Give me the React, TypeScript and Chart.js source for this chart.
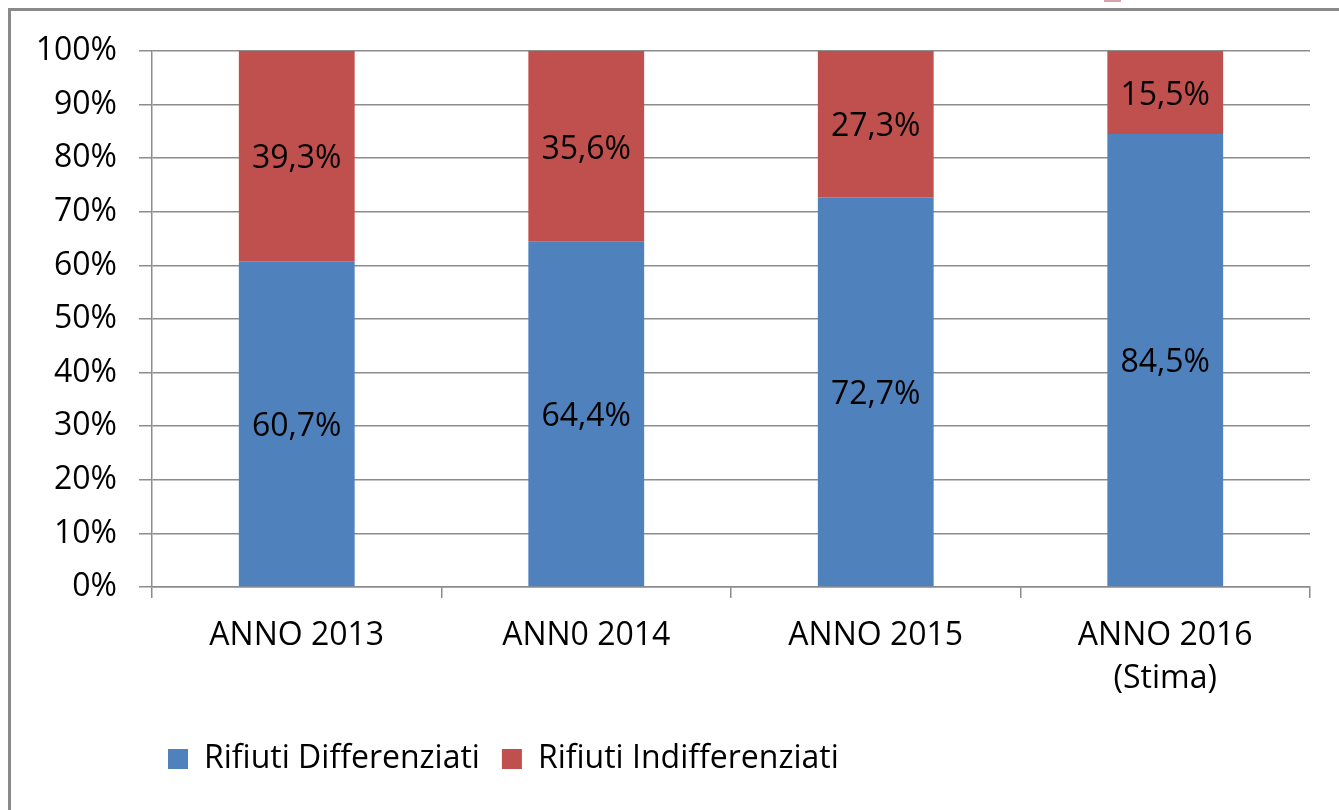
import React, { useEffect, useRef } from "react";
import { Chart, registerables } from "chart.js";

Chart.register(...registerables);

const categories: (string | string[])[] = ["ANNO 2013", "ANN0 2014", "ANNO 2015", ["ANNO 2016", "(Stima)"]];
const differenziati = [60.7, 64.4, 72.7, 84.5];
const indifferenziati = [39.3, 35.6, 27.3, 15.5];
const yTicks = [0, 10, 20, 30, 40, 50, 60, 70, 80, 90, 100];
const seriesNames = ["Rifiuti Differenziati", "Rifiuti Indifferenziati"];

const BLUE = "#4F81BD";
const RED = "#C0504D";
const GRID = "#8c8c8c";
const TEXT = "#000000";
const FONT = "'Open Sans', 'Noto Sans', sans-serif";

const fmt = (v: number) => v.toFixed(1).replace(".", ",") + "%";

const dataLabelPlugin = {
  id: "dataLabels",
  afterDatasetsDraw(chart: any) {
    const ctx = chart.ctx;
    ctx.save();
    ctx.font = `32px ${FONT}`;
    ctx.fillStyle = TEXT;
    ctx.textAlign = "center";
    ctx.textBaseline = "middle";
    chart.data.datasets.forEach((ds: any, di: number) => {
      const meta = chart.getDatasetMeta(di);
      meta.data.forEach((el: any, i: number) => {
        const { x, y, base } = el.getProps(["x", "y", "base"], true);
        ctx.fillText(fmt(ds.data[i]), x, (y + base) / 2 + 3);
      });
    });
    ctx.restore();
  },
};

const legendPlacePlugin = {
  id: "legendPlace",
  beforeLayout(chart: any) {
    const lg = chart.legend;
    if (lg && !lg._patched) {
      const f = lg.fit.bind(lg);
      lg.fit = () => {
        f();
        lg.height = 0;
      };
      lg._patched = true;
    }
  },
  afterLayout(chart: any) {
    const lg = chart.legend;
    if (!lg) return;
    const w = lg.right - lg.left;
    lg.left = 146;
    lg.right = 146 + w;
    lg.top = 721;
    lg.bottom = 801;
  },
};

export default function App() {
  const ref = useRef<HTMLCanvasElement>(null);

  useEffect(() => {
    if (!ref.current) return;
    Chart.defaults.font.family = FONT;
    Chart.defaults.font.size = 32;
    Chart.defaults.color = TEXT;
    const chart = new Chart(ref.current, {
      type: "bar",
      data: {
        labels: categories,
        datasets: [
          {
            label: seriesNames[0],
            data: differenziati,
            backgroundColor: BLUE,
            barPercentage: 0.4,
            categoryPercentage: 1,
          },
          {
            label: seriesNames[1],
            data: indifferenziati,
            backgroundColor: RED,
            barPercentage: 0.4,
            categoryPercentage: 1,
          },
        ],
      },
      options: {
        responsive: false,
        animation: false,
        devicePixelRatio: 1,
        layout: { padding: { left: 0, right: 29, top: 51, bottom: 113 } },
        plugins: {
          legend: {
            display: true,
            position: "bottom",
            align: "start",
            labels: {
              boxWidth: 20,
              boxHeight: 20,
              padding: 22,
              font: { size: 32, family: FONT },
              color: TEXT,
            },
          },
          tooltip: { enabled: false },
        },
        scales: {
          x: {
            stacked: true,
            grid: {
              offset: true,
              drawOnChartArea: false,
              drawTicks: true,
              tickLength: 11,
              color: GRID,
              lineWidth: 1.5,
            },
            border: { display: true, color: GRID, width: 1.5 },
            ticks: {
              padding: 16,
              font: { size: 32, family: FONT, lineHeight: 1.35 },
              color: TEXT,
              maxRotation: 0,
              autoSkip: false,
            },
            afterFit: (scale: any) => {
              scale.height = 110;
            },
          },
          y: {
            stacked: true,
            min: 0,
            max: 100,
            afterBuildTicks: (scale: any) => {
              scale.ticks = yTicks.map((v) => ({ value: v }));
            },
            grid: {
              color: GRID,
              lineWidth: 1.5,
              drawTicks: true,
              tickLength: 13,
            },
            border: { display: true, color: GRID, width: 1.5 },
            ticks: {
              padding: 22,
              font: { size: 32, family: FONT },
              color: TEXT,
              callback: (v: any) => v + "%",
            },
            afterFit: (scale: any) => {
              scale.width = 152;
            },
          },
        },
      },
      plugins: [dataLabelPlugin, legendPlacePlugin],
    });
    return () => chart.destroy();
  }, []);

  return (
    <div
      style={{
        position: "absolute",
        left: 0,
        top: 0,
        width: 1339,
        height: 810,
        overflow: "hidden",
        background: "#ffffff",
      }}
    >
      <div
        style={{
          position: "absolute",
          left: 8,
          top: 8,
          width: 1400,
          height: 900,
          border: "3px solid #8a8a8a",
        }}
      />
      <div
        style={{
          position: "absolute",
          left: 1104,
          top: 0,
          width: 17,
          height: 2,
          background: "#d9a3ab",
        }}
      />
      <canvas
        ref={ref}
        width={1339}
        height={810}
        style={{ position: "absolute", left: 0, top: 0, width: 1339, height: 810 }}
      />
    </div>
  );
}
